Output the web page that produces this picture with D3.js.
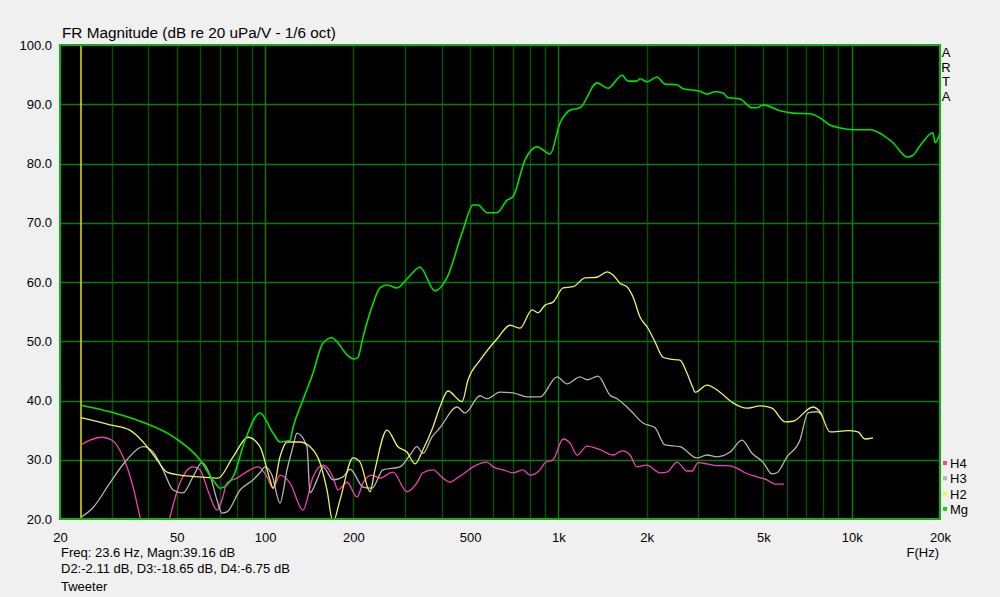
<!DOCTYPE html>
<html>

<head>
    <meta charset="utf-8" />
    <title>FR Magnitude</title>
    <script src="https://d3js.org/d3.v7.min.js"></script>
    <style>
        body { margin: 0; background: #f0f0f0; }
        svg { display: block; font-family: "Liberation Sans", Arial, sans-serif; }
    </style>
</head>

<body>
    <script type="text/javascript">
        // [Hz, dB]
        var mgData = [
            [23.6, 39.2], [29.6, 38.1], [37.5, 36.5], [49.3, 33.7], [60, 30.0], [67.5, 26.1], [70.2, 25.2],
            [77.8, 27.1], [85.5, 33.3], [96.1, 37.9], [106.5, 34.5], [112.5, 33.0], [121.6, 33.3], [124.5, 35.4],
            [134.7, 40.1], [145.7, 44.6], [157.6, 49.7], [169.1, 50.6], [177.3, 49.7], [190.4, 47.7], [201.1, 47.0],
            [207.5, 47.3], [215.8, 50.7], [231.5, 55.8], [246.5, 59.0], [260.4, 59.5], [281.8, 59.0], [307.1, 60.7],
            [337.4, 62.5], [379.5, 58.5], [416.9, 60.7], [473.3, 68.8], [511.9, 73.0], [532.4, 73.0], [571.2, 71.7],
            [617.6, 71.7], [668.4, 73.8], [700.5, 74.4], [769.8, 80.6], [845.8, 82.8], [936.9, 81.6], [1013, 86.8],
            [1096, 89.0], [1186, 89.4], [1354, 93.6], [1477, 92.7], [1648, 94.9], [1728, 93.9], [1853, 93.9],
            [1898, 94.3], [2005, 93.8], [2168, 94.6], [2310, 93.4], [2537, 93.3], [2661, 92.6], [3040, 92.2],
            [3212, 91.7], [3420, 92.1], [3640, 91.9], [3786, 91.1], [4160, 90.9], [4572, 89.4], [4755, 89.4],
            [4984, 89.9], [5697, 88.9], [6309, 88.5], [7204, 88.4], [7794, 87.7], [8432, 86.5], [9123, 86.0],
            [10103, 85.7], [11548, 85.7], [12789, 84.8], [13834, 83.5], [15441, 81.1], [16186, 81.4], [17101, 83.0],
            [18930, 85.2], [19231, 83.5], [20000, 85.2]
        ];

        var h2Data = [
            [23.6, 37.1], [29.6, 35.9], [34.6, 35.0], [38.4, 33.0], [42.8, 30.0], [46.3, 27.9], [51.3, 27.4],
            [60, 27.1], [69.1, 26.9], [77.8, 30.5], [87.5, 33.8], [96.1, 32.2], [104.0, 26.6], [106.5, 25.2],
            [112.5, 30.5], [118.8, 33.0], [131.5, 33.0], [142.3, 32.2], [153.9, 29.5], [162.6, 24.9], [170.5, 19.5],
            [180.1, 23.2], [199.5, 30.3], [210.8, 29.6], [227.9, 24.6], [237.0, 28.3], [260.4, 35.0], [283.9, 32.2],
            [304.7, 31.3], [324.5, 29.3], [345.4, 31.7], [373.6, 35.5], [394.7, 38.9], [420.3, 41.6], [469.6, 39.8],
            [492.2, 43.5], [540.8, 46.8], [622.5, 50.6], [684.2, 52.7], [740.2, 52.2], [813.3, 55.3], [852.5, 54.8],
            [900.9, 56.1], [959.2, 56.6], [1038, 59.0], [1123, 59.2], [1233, 60.7], [1354, 60.8], [1465, 61.7],
            [1536, 61.2], [1622, 59.8], [1714, 59.2], [1796, 57.5], [1898, 54.1], [2020, 52.2], [2135, 49.9],
            [2274, 47.3], [2402, 47.0], [2598, 46.8], [2746, 44.6], [2878, 42.1], [2923, 41.4], [3212, 42.6],
            [3556, 41.4], [3938, 39.6], [4395, 38.7], [4868, 39.1], [5350, 38.7], [5925, 36.4], [6309, 36.5],
            [7378, 38.9], [7794, 38.1], [8432, 34.7], [9714, 34.9], [10507, 34.7], [11094, 33.5], [11823, 33.7]
        ];

        var h3Data = [
            [23.6, 20.3], [25.9, 21.9], [29.6, 26.1], [33.8, 30.0], [38.4, 32.2], [41.5, 31.3], [44.9, 28.3],
            [48.6, 24.9], [52.5, 24.4], [56.8, 27.1], [60.9, 29.5], [64.9, 27.4], [68.6, 23.2], [71.3, 21.0],
            [74.2, 21.2], [82.2, 24.9], [91.0, 26.6], [96.1, 27.8], [100, 28.8], [105.6, 27.4], [112.5, 22.7],
            [118.8, 28.3], [124.5, 32.2], [128.5, 34.5], [139.0, 32.2], [142.3, 24.4], [150.4, 26.6], [157.6, 28.8],
            [170.5, 26.6], [184.6, 27.1], [194.9, 28.4], [215.8, 25.4], [231.5, 25.2], [252.4, 28.3], [288.4, 28.8],
            [312.0, 30.8], [329.6, 32.2], [345.4, 31.1], [370.7, 33.8], [394.7, 35.4], [451.5, 38.9], [480.7, 37.9],
            [540.8, 40.8], [571.0, 40.3], [632.4, 41.4], [700.5, 41.3], [782.0, 40.6], [866.2, 40.6], [989.9, 44.0],
            [1071, 42.8], [1186, 44.0], [1253, 43.5], [1365, 44.1], [1500, 40.9], [1585, 40.3], [1755, 38.4],
            [1943, 36.2], [2135, 35.4], [2310, 32.5], [2598, 32.2], [2970, 30.3], [3212, 30.8], [3472, 30.5],
            [3846, 31.3], [4226, 33.3], [4572, 31.1], [4984, 29.6], [5350, 27.6], [5564, 27.8], [6019, 30.5],
            [6662, 33.3], [7094, 37.9], [7614, 38.1], [7919, 37.6]
        ];

        var h4Data = [
            [23.6, 32.5], [25.3, 33.3], [27.8, 33.8], [30.1, 33.3], [32.8, 30.5], [35.5, 25.4], [37.5, 20.3],
            [40.5, 14.0], [43.9, 13.0], [47.4, 20.3], [51.3, 26.1], [56.8, 28.8], [60, 28.3], [64.3, 24.4],
            [68.6, 21.5], [71.3, 23.2], [74.2, 26.1], [80.2, 26.9], [88.9, 28.3], [94.6, 28.8], [101.6, 27.1],
            [106.5, 25.2], [112.4, 27.4], [121.6, 26.1], [134.7, 21.5], [145.7, 27.1], [157.6, 29.1], [170.5, 27.1],
            [177.3, 24.9], [190.4, 26.2], [205.9, 23.7], [215.8, 26.1], [231.5, 27.4], [246.5, 26.9], [273.0, 27.9],
            [304.7, 24.6], [329.6, 26.1], [345.4, 27.8], [373.6, 28.3], [404.1, 26.9], [427.0, 26.2], [451.5, 26.9],
            [480.7, 27.8], [511.9, 28.8], [571.0, 29.6], [600, 28.8], [647.7, 28.3], [700.5, 27.8], [757.8, 28.3],
            [800, 27.4], [866.2, 28.3], [900.9, 29.5], [959.2, 30.0], [1038, 33.5], [1096, 32.8], [1158, 30.8],
            [1253, 32.3], [1387, 31.7], [1536, 30.8], [1648, 31.5], [1755, 30.8], [1853, 28.8], [2005, 29.1],
            [2220, 27.8], [2346, 27.9], [2537, 29.6], [2746, 28.1], [2855, 28.1], [2993, 29.5], [3212, 29.3],
            [3472, 29.0], [3757, 29.0], [4063, 28.6], [4327, 27.8], [4755, 27.1], [5143, 26.6], [5478, 25.9],
            [5879, 25.9]
        ];

        var xTicks = [20, 50, 100, 200, 500, 1000, 2000, 5000, 10000, 20000];
        var xTickLabels = ['20', '50', '100', '200', '500', '1k', '2k', '5k', '10k', '20k'];
        var yTicks = [20, 30, 40, 50, 60, 70, 80, 90, 100];
        var majorFreqs = [100, 1000, 10000];
        var legendNames = ['H4', 'H3', 'H2', 'Mg'];
        var cursorFreq = 23.6;
        var infoLines = [
            'Freq: 23.6 Hz, Magn:39.16 dB',
            'D2:-2.11 dB, D3:-18.65 dB, D4:-6.75 dB',
            'Tweeter'
        ];

        var width = 1000;
        var height = 597;
        var plotL = 60, plotR = 940, plotT = 45, plotB = 519;

        var x = d3.scaleLog().domain([20, 20000]).range([plotL, plotR]);
        var y = d3.scaleLinear().domain([20, 100]).range([plotB, plotT]);

        var colors = { H4: '#f040b4', H3: '#b4b4b4', H2: '#f0f064', Mg: '#00e000' };

        var svg = d3.select('body')
            .append('svg')
            .attr('width', width)
            .attr('height', height);

        svg.append('rect')
            .attr('width', width)
            .attr('height', height)
            .attr('fill', '#f0f0f0');

        svg.append('defs').append('clipPath')
            .attr('id', 'plot')
            .append('rect')
            .attr('x', plotL)
            .attr('y', plotT)
            .attr('width', plotR - plotL)
            .attr('height', plotB - plotT);

        svg.append('rect')
            .attr('x', plotL)
            .attr('y', plotT)
            .attr('width', plotR - plotL)
            .attr('height', plotB - plotT)
            .attr('fill', '#000000');

        // minor + major vertical grid
        var minorFreqs = [];
        [10, 100, 1000, 10000].forEach(function (dec) {
            for (var m = 2; m <= 9; m++) {
                var f = dec * m;
                if (f > 20 && f < 20000) minorFreqs.push(f);
            }
        });

        svg.selectAll('.vminor')
            .data(minorFreqs)
            .enter()
            .append('line')
            .attr('x1', d => Math.round(x(d)) + 0.5)
            .attr('x2', d => Math.round(x(d)) + 0.5)
            .attr('y1', plotT)
            .attr('y2', plotB)
            .attr('stroke', '#0b4d0b')
            .attr('stroke-width', 1.5);

        svg.selectAll('.vmajor')
            .data(majorFreqs)
            .enter()
            .append('line')
            .attr('x1', d => Math.round(x(d)) + 0.5)
            .attr('x2', d => Math.round(x(d)) + 0.5)
            .attr('y1', plotT)
            .attr('y2', plotB)
            .attr('stroke', '#0c7a0c')
            .attr('stroke-width', 1.5);

        svg.selectAll('.hgrid')
            .data(yTicks.slice(1, -1))
            .enter()
            .append('line')
            .attr('x1', plotL)
            .attr('x2', plotR)
            .attr('y1', d => Math.round(y(d)) + 0.5)
            .attr('y2', d => Math.round(y(d)) + 0.5)
            .attr('stroke', '#0c7a0c')
            .attr('stroke-width', 1.5);

        // cursor
        svg.append('line')
            .attr('x1', Math.round(x(cursorFreq)))
            .attr('x2', Math.round(x(cursorFreq)))
            .attr('y1', plotT)
            .attr('y2', plotB)
            .attr('stroke', '#e6e600')
            .attr('stroke-width', 1.5);

        var line = d3.line()
            .x(d => x(d[0]))
            .y(d => y(d[1]))
            .curve(d3.curveMonotoneX);

        var series = [
            { name: 'H4', data: h4Data },
            { name: 'H3', data: h3Data },
            { name: 'H2', data: h2Data },
            { name: 'Mg', data: mgData }
        ];

        svg.append('g')
            .attr('clip-path', 'url(#plot)')
            .selectAll('path')
            .data(series)
            .enter()
            .append('path')
            .attr('d', d => line(d.data))
            .attr('fill', 'none')
            .attr('stroke', d => colors[d.name])
            .attr('stroke-width', d => d.name == 'Mg' ? 1.6 : 1.3)
            .attr('stroke-linejoin', 'round');

        // frame
        svg.append('rect')
            .attr('x', plotL)
            .attr('y', plotT)
            .attr('width', plotR - plotL)
            .attr('height', plotB - plotT)
            .attr('fill', 'none')
            .attr('stroke', '#10b010')
            .attr('stroke-width', 2);

        // axes labels
        svg.append('g')
            .attr('transform', 'translate(0,' + (plotB + 11) + ')')
            .call(d3.axisBottom(x).tickValues(xTicks).tickSize(0).tickFormat((d, i) => xTickLabels[i]))
            .call(g => g.select('.domain').remove())
            .selectAll('text')
            .attr('fill', '#000')
            .style('font-size', '13px')
            .style('font-family', '"Liberation Sans", Arial, sans-serif');

        svg.append('g')
            .attr('transform', 'translate(' + (plotL - 5) + ',0)')
            .call(d3.axisLeft(y).tickValues(yTicks).tickSize(0).tickFormat(d3.format('.1f')))
            .call(g => g.select('.domain').remove())
            .selectAll('text')
            .attr('fill', '#000')
            .style('font-size', '13px')
            .style('font-family', '"Liberation Sans", Arial, sans-serif');

        svg.append('text')
            .attr('x', 62)
            .attr('y', 38)
            .attr('font-size', 15.3)
            .text('FR Magnitude (dB re 20 uPa/V - 1/6 oct)');

        svg.append('text')
            .attr('x', 939)
            .attr('y', 557)
            .attr('text-anchor', 'end')
            .attr('font-size', 13)
            .text('F(Hz)');

        svg.selectAll('.arta')
            .data(['A', 'R', 'T', 'A'])
            .enter()
            .append('text')
            .attr('x', 946)
            .attr('y', (d, i) => 57 + i * 14.7)
            .attr('text-anchor', 'middle')
            .attr('font-size', 13)
            .text(d => d);

        var legend = svg.selectAll('.legend')
            .data(legendNames)
            .enter()
            .append('g')
            .attr('transform', (d, i) => 'translate(943,' + (463 + i * 15.3) + ')');

        legend.append('rect')
            .attr('x', 0)
            .attr('y', -2)
            .attr('width', 4)
            .attr('height', 4)
            .attr('fill', d => colors[d]);

        legend.append('text')
            .attr('x', 7)
            .attr('y', 5)
            .attr('font-size', 13)
            .text(d => d);

        svg.selectAll('.info')
            .data(infoLines)
            .enter()
            .append('text')
            .attr('x', 61)
            .attr('y', (d, i) => [557, 573, 591][i])
            .attr('font-size', 13)
            .text(d => d);
    </script>

</body>

</html>
